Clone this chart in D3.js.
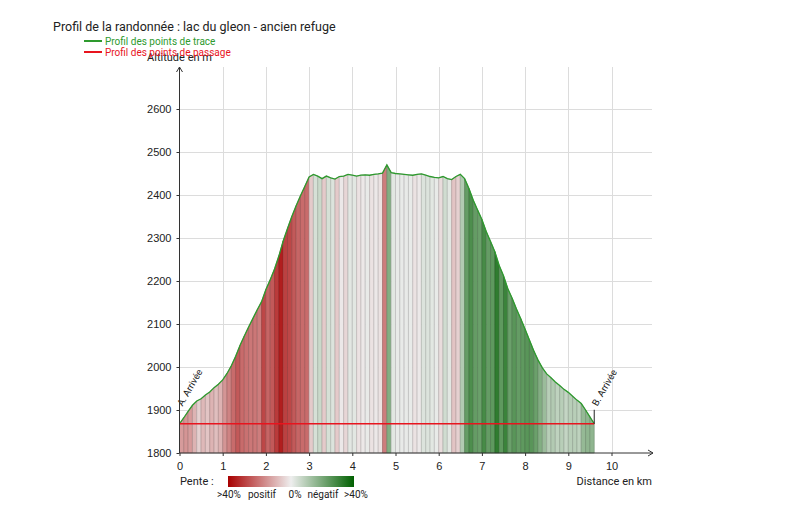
<!DOCTYPE html>
<html>
<head>
<meta charset="utf-8">
<script src="https://cdn.jsdelivr.net/npm/d3@7"></script>
<style>
  body { margin: 0; background: #fff; }
  svg { font-family: Roboto, "Noto Sans", sans-serif; display: block; }
</style>
</head>
<body>
<div id="chart"></div>
<script>
// profile, distance in km / altitude in m
const distances = [
  0.0, 0.1, 0.2, 0.3, 0.4, 0.5, 0.6, 0.7, 0.8, 0.9,
  1.0, 1.1, 1.2, 1.3, 1.4, 1.5, 1.6, 1.7, 1.8, 1.9,
  2.0, 2.1, 2.2, 2.3, 2.4, 2.5, 2.6, 2.7, 2.8, 2.9,
  3.0, 3.1, 3.2, 3.3, 3.4, 3.5, 3.6, 3.7, 3.8, 3.9,
  4.0, 4.1, 4.2, 4.3, 4.4, 4.5, 4.6, 4.7, 4.8, 4.9,
  5.0, 5.1, 5.2, 5.3, 5.4, 5.5, 5.6, 5.7, 5.8, 5.9,
  6.0, 6.1, 6.2, 6.3, 6.4, 6.5, 6.6, 6.7, 6.8, 6.9,
  7.0, 7.1, 7.2, 7.3, 7.4, 7.5, 7.6, 7.7, 7.8, 7.9,
  8.0, 8.1, 8.2, 8.3, 8.4, 8.5, 8.6, 8.7, 8.8, 8.9,
  9.0, 9.1, 9.2, 9.3, 9.4, 9.5, 9.6
];
const altitudes = [
  1868, 1882, 1897, 1911, 1921, 1926, 1935, 1942, 1952, 1960,
  1970, 1985, 2003, 2025, 2050, 2072, 2093, 2113, 2133, 2152,
  2180, 2203, 2228, 2258, 2293, 2322, 2350, 2375, 2398, 2420,
  2442, 2448, 2444, 2438, 2444, 2440, 2437, 2443, 2444, 2448,
  2446, 2444, 2446, 2447, 2446, 2448, 2449, 2451, 2470, 2452,
  2450, 2449, 2448, 2447, 2446, 2448, 2449, 2446, 2443, 2441,
  2440, 2443, 2438, 2436, 2443, 2448, 2438, 2415, 2388, 2365,
  2343, 2315, 2292, 2268, 2236, 2212, 2182, 2160, 2135, 2112,
  2088, 2063, 2038, 2016, 1998, 1984, 1975, 1965, 1957, 1948,
  1941, 1932, 1923, 1915, 1900, 1884, 1868
];

// waypoints (profil des points de passage)
const waypointNames = ['A. Arrivée', 'B. Arrivée'];
const waypointDist = [0, 9.6];
const waypointAlt = [1868, 1868];

const xTicks = [0, 1, 2, 3, 4, 5, 6, 7, 8, 9, 10];
const yTicks = [1800, 1900, 2000, 2100, 2200, 2300, 2400, 2500, 2600];

const slopeStops = [40, 0, -40];
const slopeColors = ['#a80000', '#eeeeee', '#006000'];
const slopeLabels = ['>40%', 'positif', '0%', 'négatif', '>40%'];

const width = 800, height = 508;
const plotRight = 652;

const svg = d3.select('#chart').append('svg')
    .attr('width', width)
    .attr('height', height);

const x = d3.scaleLinear().domain([0, 10]).range([179.5, 611.5]);
const y = d3.scaleLinear().domain([1800, 2600]).range([453, 109]);
const yTop = y(2700) + 1;

const slopeColor = d3.scaleLinear()
    .domain(slopeStops)
    .range(slopeColors)
    .clamp(true);

const points = distances.map((d, i) => ({ d: d, a: altitudes[i] }));

// Title
svg.append('text')
    .attr('x', 53)
    .attr('y', 31)
    .attr('font-size', 12.5)
    .attr('fill', '#222')
    .text('Profil de la randonnée : lac du gleon - ancien refuge');

// Grid
const grid = svg.append('g').attr('stroke', '#dcdcdc').attr('stroke-width', 1);
grid.selectAll('line.h')
    .data(yTicks.slice(1))
    .join('line')
    .attr('x1', x(0)).attr('x2', plotRight)
    .attr('y1', d => Math.round(y(d)) + 0.5)
    .attr('y2', d => Math.round(y(d)) + 0.5);
grid.selectAll('line.v')
    .data(xTicks.slice(1))
    .join('line')
    .attr('x1', d => Math.round(x(d)) + 0.5)
    .attr('x2', d => Math.round(x(d)) + 0.5)
    .attr('y1', yTop).attr('y2', y(1800));

// Slope coloured stripes, one per segment
const stripes = svg.append('g');
for (let i = 0; i < points.length - 1; i++) {
    const p0 = points[i], p1 = points[i + 1];
    const slope = (p1.a - p0.a) / ((p1.d - p0.d) * 1000) * 100;
    const c = slopeColor(slope);
    stripes.append('path')
        .attr('d', `M${x(p0.d)},${y(1800)}L${x(p0.d)},${y(p0.a)}L${x(p1.d)},${y(p1.a)}L${x(p1.d)},${y(1800)}Z`)
        .attr('fill', c)
        .attr('stroke', d3.color(c).darker(0.7))
        .attr('stroke-width', 0.6);
}

// Profile line
const line = d3.line().x(p => x(p.d)).y(p => y(p.a));
svg.append('path')
    .datum(points)
    .attr('d', line)
    .attr('fill', 'none')
    .attr('stroke', '#2e9a2e')
    .attr('stroke-width', 1.3);

// Waypoint line
const wp = waypointDist.map((d, i) => ({ d: d, a: waypointAlt[i], name: waypointNames[i] }));
svg.append('path')
    .datum(wp)
    .attr('d', line)
    .attr('fill', 'none')
    .attr('stroke', '#e8141e')
    .attr('stroke-width', 1.4);

// Waypoint labels
const marks = svg.append('g').selectAll('g')
    .data(wp)
    .join('g')
    .attr('transform', p => `translate(${x(p.d)},${y(p.a)})`);
marks.append('line')
    .attr('y1', 0).attr('y2', -14)
    .attr('stroke', '#222')
    .attr('stroke-width', 1);
marks.append('text')
    .attr('transform', 'translate(3,-17) rotate(-60)')
    .attr('font-size', 9.5)
    .attr('fill', '#222')
    .text(p => p.name);

// Axes
const xAxis = svg.append('g')
    .attr('transform', `translate(0,${y(1800)})`)
    .call(d3.axisBottom(x).tickValues(xTicks).tickSize(3).tickPadding(6));
xAxis.select('.domain').remove();
xAxis.selectAll('text').attr('font-size', 11).attr('fill', '#222').attr('font-family', null);
xAxis.selectAll('line').attr('stroke', '#333');

const yAxis = svg.append('g')
    .attr('transform', `translate(${x(0)},0)`)
    .call(d3.axisLeft(y).tickValues(yTicks).tickFormat(d3.format('d')).tickSize(3).tickPadding(5));
yAxis.select('.domain').remove();
yAxis.selectAll('text').attr('font-size', 11).attr('fill', '#222').attr('font-family', null);
yAxis.selectAll('line').attr('stroke', '#333');

const axisColor = '#333';
svg.append('line')
    .attr('x1', x(0)).attr('x2', x(0))
    .attr('y1', y(1800)).attr('y2', yTop)
    .attr('stroke', axisColor);
svg.append('path')
    .attr('d', `M${x(0) - 3},${yTop + 5}L${x(0)},${yTop}L${x(0) + 3},${yTop + 5}`)
    .attr('fill', 'none').attr('stroke', axisColor);
svg.append('line')
    .attr('x1', x(0)).attr('x2', plotRight + 1)
    .attr('y1', y(1800)).attr('y2', y(1800))
    .attr('stroke', axisColor);
svg.append('path')
    .attr('d', `M${plotRight - 4},${y(1800) - 3}L${plotRight + 1},${y(1800)}L${plotRight - 4},${y(1800) + 3}`)
    .attr('fill', 'none').attr('stroke', axisColor);

svg.append('text')
    .attr('x', x(0))
    .attr('y', 61)
    .attr('text-anchor', 'middle')
    .attr('font-size', 11)
    .attr('fill', '#222')
    .text('Altitude en m');

svg.append('text')
    .attr('x', plotRight)
    .attr('y', 485)
    .attr('text-anchor', 'end')
    .attr('font-size', 11)
    .attr('fill', '#222')
    .text('Distance en km');

// Series legend
const legendItems = [
    { label: 'Profil des points de trace', color: '#2e9a2e' },
    { label: 'Profil des points de passage', color: '#e8141e' }
];
const legend = svg.append('g').selectAll('g')
    .data(legendItems)
    .join('g')
    .attr('transform', (d, i) => `translate(84,${41 + i * 11})`);
legend.append('line')
    .attr('x1', 0).attr('x2', 18)
    .attr('stroke', d => d.color)
    .attr('stroke-width', 2);
legend.append('text')
    .attr('x', 21)
    .attr('y', 3.5)
    .attr('font-size', 10)
    .attr('fill', d => d.color)
    .text(d => d.label);

// Slope legend
const defs = svg.append('defs');
const grad = defs.append('linearGradient')
    .attr('id', 'slopeGradient')
    .attr('x1', '0%').attr('x2', '100%');
slopeColors.forEach((c, i) => {
    grad.append('stop')
        .attr('offset', `${i * 50}%`)
        .attr('stop-color', c);
});
svg.append('text')
    .attr('x', 180)
    .attr('y', 485)
    .attr('font-size', 11)
    .attr('fill', '#222')
    .text('Pente :');
svg.append('rect')
    .attr('x', 228).attr('y', 476)
    .attr('width', 126).attr('height', 11)
    .attr('fill', 'url(#slopeGradient)');
const labelX = [229, 262, 295, 323, 356];
svg.append('g').selectAll('text')
    .data(slopeLabels)
    .join('text')
    .attr('x', (d, i) => labelX[i])
    .attr('y', 498)
    .attr('text-anchor', 'middle')
    .attr('font-size', 10)
    .attr('fill', '#222')
    .text(d => d);
</script>
</body>
</html>
